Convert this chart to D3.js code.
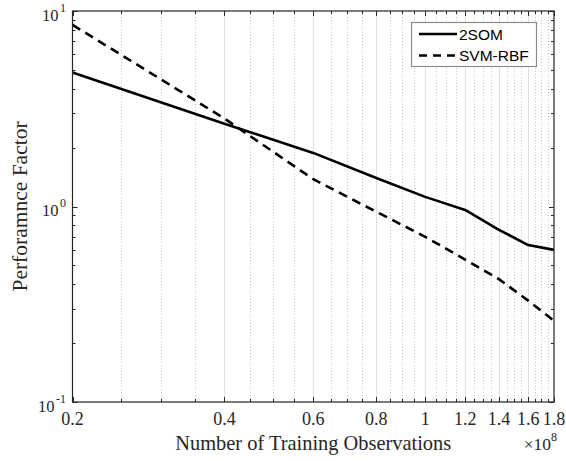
<!DOCTYPE html>
<html>
<head>
<meta charset="utf-8">
<script src="https://cdn.jsdelivr.net/npm/d3@7"></script>
<style>
  html, body { margin: 0; padding: 0; background: #fff; }
  svg { display: block; }
</style>
</head>
<body>
<svg id="chart" width="566" height="461"></svg>
<script>
// Training set sizes, in units of 1e8 observations
const trainingSizes = [0.2, 0.4, 0.6, 0.8, 1.0, 1.2, 1.4, 1.6, 1.8];
// Performance factor per method
const som2 = [4.85, 2.65, 1.88, 1.40, 1.12, 0.96, 0.76, 0.635, 0.60];
const svmRbf = [8.5, 2.82, 1.38, 0.94, 0.70, 0.535, 0.425, 0.33, 0.26];

const seriesNames = ["2SOM", "SVM-RBF"];
const xTickValues = [0.2, 0.4, 0.6, 0.8, 1.0, 1.2, 1.4, 1.6, 1.8];
const xTickLabels = ["0.2", "0.4", "0.6", "0.8", "1", "1.2", "1.4", "1.6", "1.8"];
const yTickValues = [0.1, 1, 10];
const yTickExponents = ["-1", "0", "1"];

const serif = "'Liberation Serif', 'Times New Roman', serif";
const sans = "'Liberation Sans', Arial, sans-serif";
const axisColor = "#262626";

const svg = d3.select("#chart");
const box = { left: 72.5, right: 554, top: 11, bottom: 402 };

const x = d3.scaleLog().domain([0.2, 1.8]).range([box.left, box.right]);
const y = d3.scaleLog().domain([0.1, 10]).range([box.bottom, box.top]);

// minor x positions every 0.05 between the labelled ticks
const xMinor = d3.range(0, 33).map(i => +(0.2 + i * 0.05).toFixed(2))
  .filter(v => v <= 1.8 && !xTickValues.some(t => Math.abs(t - v) < 1e-9));
// minor y positions at 2..9 of each decade
const yMinor = [];
[0.1, 1].forEach(d => { for (let k = 2; k <= 9; k++) yMinor.push(+(d * k).toFixed(3)); });

// vertical grid: solid at labelled ticks, dotted at minor positions
const grid = svg.append("g");
grid.selectAll("line.minor").data(xMinor).join("line")
  .attr("class", "minor")
  .attr("x1", d => Math.round(x(d)) + 0.5).attr("x2", d => Math.round(x(d)) + 0.5)
  .attr("y1", box.top).attr("y2", box.bottom)
  .attr("stroke", "#c8c8c8").attr("stroke-width", 1)
  .attr("stroke-dasharray", "1,2");
grid.selectAll("line.major").data(xTickValues.slice(1, -1)).join("line")
  .attr("class", "major")
  .attr("x1", d => Math.round(x(d)) + 0.5).attr("x2", d => Math.round(x(d)) + 0.5)
  .attr("y1", box.top).attr("y2", box.bottom)
  .attr("stroke", "#dedede").attr("stroke-width", 1);

// data lines
const line = d3.line()
  .x((d, i) => x(trainingSizes[i]))
  .y(d => y(d));

svg.append("path").datum(som2)
  .attr("d", line).attr("fill", "none")
  .attr("stroke", "#000").attr("stroke-width", 2.6)
  .attr("stroke-linejoin", "round");
svg.append("path").datum(svmRbf)
  .attr("d", line).attr("fill", "none")
  .attr("stroke", "#000").attr("stroke-width", 2.6)
  .attr("stroke-dasharray", "9,6");

// axes with inward ticks on all four sides
const ax = svg.append("g");
function tickLines(values, scale, len, orient) {
  values.forEach(v => {
    const p = Math.round(scale(v)) + 0.5;
    if (orient === "x") {
      ax.append("line").attr("x1", p).attr("x2", p)
        .attr("y1", box.bottom).attr("y2", box.bottom - len)
        .attr("stroke", axisColor);
      ax.append("line").attr("x1", p).attr("x2", p)
        .attr("y1", box.top).attr("y2", box.top + len)
        .attr("stroke", axisColor);
    } else {
      ax.append("line").attr("y1", p).attr("y2", p)
        .attr("x1", box.left).attr("x2", box.left + len)
        .attr("stroke", axisColor);
      ax.append("line").attr("y1", p).attr("y2", p)
        .attr("x1", box.right).attr("x2", box.right - len)
        .attr("stroke", axisColor);
    }
  });
}
tickLines(xTickValues, x, 5, "x");
tickLines(xMinor, x, 3, "x");
tickLines(yTickValues, y, 5, "y");
tickLines(yMinor, y, 3, "y");

ax.append("rect")
  .attr("x", box.left).attr("y", box.top)
  .attr("width", box.right - box.left).attr("height", box.bottom - box.top)
  .attr("fill", "none").attr("stroke", axisColor).attr("stroke-width", 1.2);

// x tick labels
svg.append("g").selectAll("text").data(xTickValues).join("text")
  .attr("x", d => x(d)).attr("y", 425)
  .attr("text-anchor", "middle")
  .attr("font-family", serif).attr("font-size", 18)
  .attr("fill", axisColor)
  .text((d, i) => xTickLabels[i]);

// y tick labels as powers of ten
const yl = svg.append("g").selectAll("text").data(yTickValues).join("text")
  .attr("x", 66).attr("y", d => y(d) + 9.5)
  .attr("text-anchor", "end")
  .attr("font-family", serif).attr("font-size", 16.5)
  .attr("fill", axisColor);
yl.append("tspan").text("10");
yl.append("tspan").attr("dx", 1.5).attr("dy", -9).attr("font-size", 12)
  .text((d, i) => yTickExponents[i]);

// exponent multiplier for x
const mult = svg.append("text")
  .attr("x", 557).attr("y", 450).attr("text-anchor", "end")
  .attr("font-family", serif).attr("font-size", 17.5).attr("fill", axisColor);
mult.append("tspan").text("\u00d710");
mult.append("tspan").attr("dy", -9).attr("font-size", 12).text("8");

// axis titles
svg.append("text")
  .attr("x", (box.left + box.right) / 2).attr("y", 450)
  .attr("text-anchor", "middle")
  .attr("font-family", serif).attr("font-size", 20.4).attr("fill", axisColor)
  .text("Number of Training Observations");
svg.append("text")
  .attr("transform", `translate(26.5,${(box.top + box.bottom) / 2}) rotate(-90)`)
  .attr("text-anchor", "middle")
  .attr("font-family", serif).attr("font-size", 21.5).attr("fill", axisColor)
  .text("Perforamnce Factor");

// legend
const lg = svg.append("g");
lg.append("rect")
  .attr("x", 411.5).attr("y", 22.5).attr("width", 125).attr("height", 44)
  .attr("fill", "#fff").attr("stroke", "#8a8a8a").attr("stroke-width", 1.2);
const legendRows = [
  { name: seriesNames[0], dash: null, cy: 34 },
  { name: seriesNames[1], dash: "8,6", cy: 55.5 }
];
legendRows.forEach(r => {
  lg.append("line")
    .attr("x1", 419).attr("x2", 457).attr("y1", r.cy).attr("y2", r.cy)
    .attr("stroke", "#000").attr("stroke-width", 2.6)
    .attr("stroke-dasharray", r.dash);
  lg.append("text")
    .attr("x", 459).attr("y", r.cy + 5.5)
    .attr("font-family", sans).attr("font-size", 15.5).attr("fill", "#000")
    .text(r.name);
});
</script>
</body>
</html>
